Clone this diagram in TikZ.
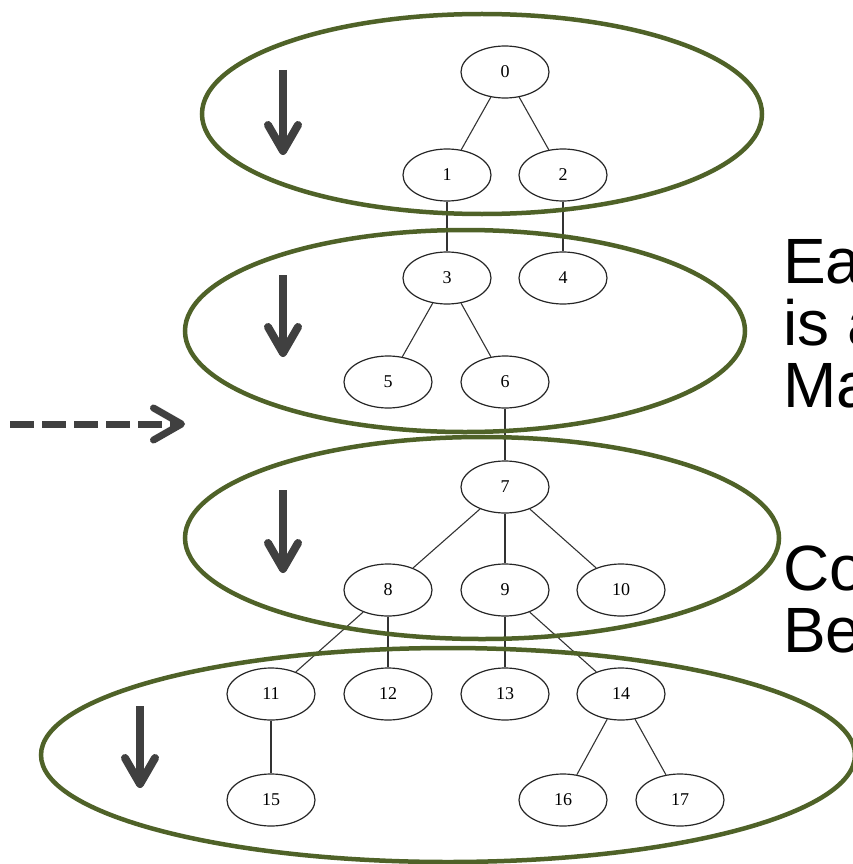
\documentclass[tikz,border=0pt]{standalone}
\usepackage{fontspec}
\setmainfont{Liberation Serif}
\newfontfamily\slidefont{Liberation Sans}
\usetikzlibrary{shapes.geometric,arrows.meta}
\definecolor{olive}{HTML}{4F6228}
\definecolor{arrowgray}{HTML}{404040}
\begin{document}
\begin{tikzpicture}[x=1pt,y=-1pt,
    vertex/.style={draw=black!85,line width=1.2pt,ellipse,fill=white,
      minimum width=88pt,minimum height=52pt,inner sep=0pt,font=\fontsize{18}{18}\selectfont},
    tree/.style={draw=black!80,line width=1.1pt},
    level/.style={draw=olive,line width=4.5pt},
    down/.style={draw=arrowgray,line width=8pt,
      -{Straight Barb[length=26pt,width=30pt,round]}},
    slide/.style={anchor=base west,inner sep=0pt,font=\slidefont\fontsize{64}{64}\selectfont}]
\useasboundingbox (0,0) rectangle (853,864);
\node[vertex] (n0) at (505,72) {0};
\node[vertex] (n1) at (447,175) {1};
\node[vertex] (n2) at (563,175) {2};
\node[vertex] (n3) at (447,278) {3};
\node[vertex] (n4) at (563,278) {4};
\node[vertex] (n5) at (388,382) {5};
\node[vertex] (n6) at (505,382) {6};
\node[vertex] (n7) at (505,487) {7};
\node[vertex] (n8) at (388,590) {8};
\node[vertex] (n9) at (505,590) {9};
\node[vertex] (n10) at (621,590) {10};
\node[vertex] (n11) at (271,694) {11};
\node[vertex] (n12) at (388,694) {12};
\node[vertex] (n13) at (505,694) {13};
\node[vertex] (n14) at (621,694) {14};
\node[vertex] (n15) at (271,800) {15};
\node[vertex] (n16) at (563,800) {16};
\node[vertex] (n17) at (680,800) {17};
\draw[tree] (n0) -- (n1);
\draw[tree] (n0) -- (n2);
\draw[tree] (n1) -- (n3);
\draw[tree] (n2) -- (n4);
\draw[tree] (n3) -- (n5);
\draw[tree] (n3) -- (n6);
\draw[tree] (n6) -- (n7);
\draw[tree] (n7) -- (n8);
\draw[tree] (n7) -- (n9);
\draw[tree] (n7) -- (n10);
\draw[tree] (n8) -- (n11);
\draw[tree] (n8) -- (n12);
\draw[tree] (n9) -- (n13);
\draw[tree] (n9) -- (n14);
\draw[tree] (n11) -- (n15);
\draw[tree] (n14) -- (n16);
\draw[tree] (n14) -- (n17);
% one ring per level group
\draw[level] (482,114) ellipse [x radius=280,y radius=100];
\draw[level] (465,331) ellipse [x radius=280,y radius=101];
\draw[level] (482,538) ellipse [x radius=297,y radius=101];
\draw[level] (448,755) ellipse [x radius=407,y radius=107];
\coordinate (a1) at (283,70);  \coordinate (b1) at (283,155);
\coordinate (a2) at (283,275); \coordinate (b2) at (283,357);
\coordinate (a3) at (283,490); \coordinate (b3) at (283,573);
\coordinate (a4) at (140,706); \coordinate (b4) at (140,788);
\draw[down] (a1) -- (b1);
\draw[down] (a2) -- (b2);
\draw[down] (a3) -- (b3);
\draw[down] (a4) -- (b4);
\coordinate (d0) at (10,424); \coordinate (d1) at (185,424);
\draw[draw=arrowgray,line width=7pt,dash pattern=on 24pt off 8pt,
  -{Straight Barb[length=28pt,width=32pt,round]}] (d0) -- (d1);
\node[slide] (t1) at (783,283) {Ea};
\node[slide] (t2) at (783,345) {is a};
\node[slide] (t3) at (783,407) {Ma};
\node[slide] (t4) at (783,590) {Co};
\node[slide] (t5) at (783,652) {Be};
\end{tikzpicture}
\end{document}
